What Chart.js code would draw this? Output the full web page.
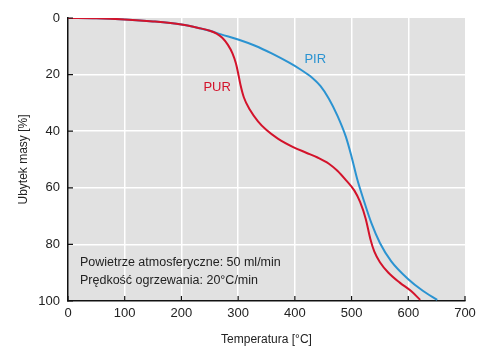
<!DOCTYPE html>
<html>
<head>
<meta charset="utf-8">
<script src="https://cdn.jsdelivr.net/npm/chart.js@4"></script>
<style>
  html, body { margin: 0; padding: 0; background: #fff; }
  #wrap { width: 491px; height: 359px; }
</style>
</head>
<body>
<div id="wrap"><canvas id="chart" width="491" height="359"></canvas></div>
<script>
const PUR_RED = "#d3132b";
const PIR_BLUE = "#2b93d1";
const PLOT_GREY = "#e1e1e1";

// temperatures [°C] and mass loss [%]
const purTemp = [0, 50, 100, 150, 200, 230, 250, 262, 272, 282, 290, 296, 300, 304, 310, 321, 335, 350, 370, 397, 420, 440, 460, 475, 490, 505, 515, 525, 533, 540, 550, 565, 585, 605, 621];
const purLoss = [0, 0.1, 0.5, 1.2, 2.3, 3.5, 4.5, 5.5, 7, 9.5, 12.5, 16, 19.5, 23.5, 28, 32.5, 36.5, 39.6, 42.6, 45.6, 47.6, 49.3, 51.5, 54, 57.3, 61, 65, 71, 78, 82.5, 86.3, 90, 93.5, 96.5, 99.6];

const pirTemp = [0, 50, 100, 150, 200, 230, 250, 270, 300, 330, 360, 390, 410, 430, 445, 460, 475, 490, 500, 510, 520, 535, 550, 570, 600, 625, 651];
const pirLoss = [0, 0.1, 0.5, 1.2, 2.3, 3.5, 4.5, 5.8, 7.6, 9.8, 12.6, 15.8, 18.2, 21, 24, 28.5, 34.5, 42, 49, 57, 63.5, 72.5, 79.5, 86, 92.3, 96.3, 99.6];

const xTicks = [0, 100, 200, 300, 400, 500, 600, 700];
const yTicks = [0, 20, 40, 60, 80, 100];

const seriesLabels = [
    { text: "PUR", x: 263, y: 24.7, color: PUR_RED },
    { text: "PIR", x: 436, y: 14.5, color: PIR_BLUE }
];
const noteLines = ["Powietrze atmosferyczne: 50 ml/min", "Prędkość ogrzewania: 20°C/min"];

function toPoints(xs, ys) {
    return xs.map((x, i) => ({ x: x, y: ys[i] }));
}

const plotDecor = {
    id: "plotDecor",
    beforeDraw(chart) {
        const a = chart.chartArea;
        const ctx = chart.ctx;
        ctx.save();
        ctx.fillStyle = PLOT_GREY;
        ctx.fillRect(a.left, a.top, a.right - a.left, a.bottom - a.top);
        ctx.restore();
    },
    afterDatasetsDraw(chart) {
        const ctx = chart.ctx;
        const xs = chart.scales.x;
        const ys = chart.scales.y;
        const a = chart.chartArea;
        ctx.save();
        // inward tick marks
        ctx.strokeStyle = "#111";
        ctx.lineWidth = 1.2;
        ctx.beginPath();
        for (const t of xTicks) {
            const px = xs.getPixelForValue(t);
            ctx.moveTo(px, a.bottom);
            ctx.lineTo(px, a.bottom - 5);
        }
        for (const t of yTicks) {
            const py = ys.getPixelForValue(t);
            ctx.moveTo(a.left, py);
            ctx.lineTo(a.left + 5, py);
        }
        ctx.stroke();

        ctx.font = "13px 'Liberation Sans', Arial, sans-serif";
        ctx.textBaseline = "middle";
        for (const l of seriesLabels) {
            ctx.fillStyle = l.color;
            ctx.textAlign = "center";
            ctx.fillText(l.text, xs.getPixelForValue(l.x), ys.getPixelForValue(l.y));
        }
        ctx.fillStyle = "#222";
        ctx.textAlign = "left";
        ctx.font = "12.5px 'Liberation Sans', Arial, sans-serif";
        noteLines.forEach((line, i) => {
            ctx.fillText(line, a.left + 12, ys.getPixelForValue(86.5) + i * 18);
        });
        ctx.restore();
    }
};

new Chart(document.getElementById("chart"), {
    type: "line",
    data: {
        datasets: [
            {
                label: "PUR",
                data: toPoints(purTemp, purLoss),
                borderColor: PUR_RED,
                borderWidth: 2,
                pointRadius: 0,
                cubicInterpolationMode: "monotone"
            },
            {
                label: "PIR",
                data: toPoints(pirTemp, pirLoss),
                borderColor: PIR_BLUE,
                borderWidth: 2,
                pointRadius: 0,
                cubicInterpolationMode: "monotone"
            }
        ]
    },
    plugins: [plotDecor],
    options: {
        responsive: false,
        animation: false,
        layout: { padding: { top: 18, right: 26, left: 0, bottom: 0 } },
        plugins: {
            legend: { display: false },
            tooltip: { enabled: false }
        },
        scales: {
            x: {
                type: "linear",
                min: 0,
                max: 700,
                afterBuildTicks: s => { s.ticks = xTicks.map(v => ({ value: v })); },
                afterFit: s => { s.height = 58; },
                grid: {
                    color: ctx => (ctx.tick && (ctx.tick.value === 0 || ctx.tick.value === 700)) ? "rgba(0,0,0,0)" : "#ffffff",
                    lineWidth: 1.5,
                    drawTicks: false
                },
                border: { display: true, color: "#111", width: 1.5 },
                ticks: {
                    color: "#222",
                    padding: 5,
                    maxRotation: 0,
                    font: { family: "'Liberation Sans', Arial, sans-serif", size: 13 }
                },
                title: {
                    display: true,
                    text: "Temperatura [°C]",
                    color: "#222",
                    padding: { top: 4, bottom: 12 },
                    font: { family: "'Liberation Sans', Arial, sans-serif", size: 12 }
                }
            },
            y: {
                type: "linear",
                reverse: true,
                min: 0,
                max: 100,
                afterBuildTicks: s => { s.ticks = yTicks.map(v => ({ value: v })); },
                afterFit: s => { s.width = 68; },
                grid: {
                    color: ctx => (ctx.tick && (ctx.tick.value === 0 || ctx.tick.value === 100)) ? "rgba(0,0,0,0)" : "#ffffff",
                    lineWidth: 1.5,
                    drawTicks: false
                },
                border: { display: true, color: "#111", width: 1.5 },
                ticks: {
                    color: "#222",
                    padding: 8,
                    font: { family: "'Liberation Sans', Arial, sans-serif", size: 13 }
                },
                title: {
                    display: true,
                    text: "Ubytek masy [%]",
                    color: "#222",
                    padding: { top: 16, bottom: 4 },
                    font: { family: "'Liberation Sans', Arial, sans-serif", size: 12 }
                }
            }
        }
    }
});
</script>
</body>
</html>
